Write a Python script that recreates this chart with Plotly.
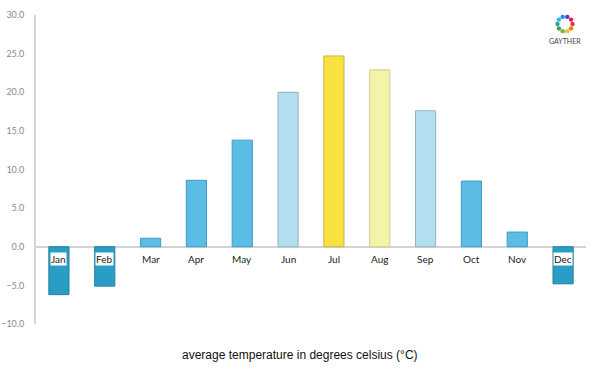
import plotly.graph_objects as go
import math

months = ["Jan", "Feb", "Mar", "Apr", "May", "Jun", "Jul", "Aug", "Sep", "Oct", "Nov", "Dec"]
temps = [-6.2, -5.1, 1.1, 8.6, 13.8, 20.0, 24.7, 22.9, 17.6, 8.5, 1.9, -4.8]
fill_colors = ["#2A9DC4", "#2A9DC4", "#5BBDE6", "#5BBDE6", "#5BBDE6", "#B1DFF0",
               "#F8E242", "#F4F3AA", "#B1DFF0", "#5BBDE6", "#5BBDE6", "#2A9DC4"]
line_colors = ["#23809F", "#23809F", "#3D9BC4", "#3D9BC4", "#3D9BC4", "#8FB3C4",
               "#C9B63E", "#CFCC8E", "#8FB3C4", "#3D9BC4", "#3D9BC4", "#23809F"]
y_ticks = [-10, -5, 0, 5, 10, 15, 20, 25, 30]

W, H = 600, 375
# plot box in window pixels: left 36, right 586, top 15, bottom 324
ml, mt = 36, 15
mr = W - 586
mb = H - 324
pw, ph = W - ml - mr, H - mt - mb


def px_to_paper(wx, wy):
    return (wx - ml) / pw, (H - mb - wy) / ph


fig = go.Figure()
fig.add_trace(go.Bar(
    x=months, y=temps, width=0.44,
    marker=dict(color=fill_colors, line=dict(color=line_colors, width=1)),
    hoverinfo="x+y", showlegend=False,
))

annotations = []
for m in months:
    annotations.append(dict(
        x=m, y=0, xref="x", yref="y", text=m, showarrow=False,
        yanchor="top", yshift=-5, bgcolor="white", borderpad=0,
        font=dict(family="Lato, Noto Sans, sans-serif", size=10, color="#222222"),
    ))
tx, ty = px_to_paper(300, 355)
annotations.append(dict(
    x=tx, y=ty, xref="paper", yref="paper", showarrow=False,
    text="average temperature in degrees celsius (°C)",
    font=dict(family="Liberation Sans, Arial, sans-serif", size=12, color="#111111"),
    xanchor="center", yanchor="middle",
))
gx, gy = px_to_paper(565, 41)
annotations.append(dict(
    x=gx, y=gy, xref="paper", yref="paper", showarrow=False,
    xanchor="center", yanchor="middle",
    text="GAYTHER", font=dict(family="Lato, sans-serif", size=7, color="#444444"),
))

# logo ring
ring_colors = ["#E53935", "#F57C00", "#FBC02D", "#7CB342", "#43A047", "#26A69A",
               "#29B6F6", "#1E88E5", "#5E35B1", "#D81B60"]
shapes = []
cx, cy, r = 565, 24, 7.5
for i, c in enumerate(ring_colors):
    a = 2 * math.pi * i / len(ring_colors)
    fx, fy = px_to_paper(cx + r * math.cos(a), cy + r * math.sin(a))
    d = 2.2
    shapes.append(dict(type="circle", xref="paper", yref="paper",
                       x0=fx - d / pw, x1=fx + d / pw, y0=fy - d / ph, y1=fy + d / ph,
                       fillcolor=c, line=dict(width=0)))

fig.update_layout(
    width=W, height=H,
    margin=dict(l=ml, r=mr, t=mt, b=mb, autoexpand=False),
    paper_bgcolor="white", plot_bgcolor="white",
    annotations=annotations,
    shapes=shapes,
    xaxis=dict(showticklabels=False, showgrid=False, zeroline=False,
               showline=False, ticks="", range=[-0.5, 11.5], automargin=False),
    yaxis=dict(range=[-10, 30], tickvals=y_ticks, tickformat=".1f",
               showgrid=False, zeroline=True, zerolinecolor="#D3D3D3",
               zerolinewidth=2, showline=True, linecolor="#D6D6D6",
               linewidth=2, ticks="", ticklabelstandoff=8, automargin=False,
               tickfont=dict(family="Lato, Noto Sans, sans-serif", size=9, color="#8A8A8A")),
)

fig.write_html("out.html", config={"displayModeBar": False},
               post_script="document.body.style.margin='0px';")
